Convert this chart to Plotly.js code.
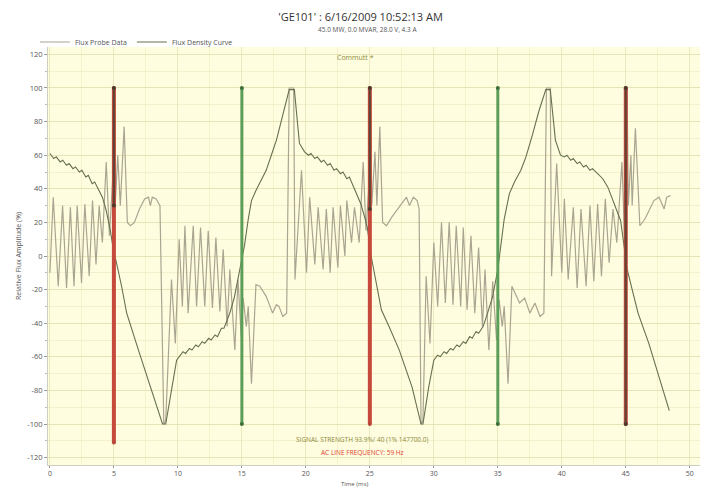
<!DOCTYPE html>
<html>
<head>
<meta charset="utf-8">
<script src="https://cdn.plot.ly/plotly-3.0.1.min.js"></script>
<style>html,body{margin:0;padding:0;background:#fff;}#chart{width:707px;height:488px;}</style>
</head>
<body>
<div id="chart"></div>
<script>
// ---- Data ----
const probeX = [0,0.26,0.65,0.99,1.3,1.6,1.88,2.13,2.47,2.73,3.07,3.33,3.6,3.85,4.1,4.4,4.65,4.9,5.05,5.1,5.3,5.5,5.8,6.05,6.3,6.6,7.0,7.4,7.7,7.85,8.0,8.3,8.6,8.9,9.05,9.5,9.8,10.1,10.35,10.55,10.8,11.2,11.46,11.77,12.1,12.37,12.7,12.97,13.28,13.54,13.85,14.06,14.45,14.7,14.95,15.1,15.35,15.5,15.75,16.1,16.4,16.9,17.4,17.7,17.9,18.2,18.5,18.7,19.05,19.15,19.66,20.05,20.3,20.7,20.96,21.35,21.6,21.9,22.13,22.5,22.7,23.05,23.2,23.57,23.8,24.17,24.48,24.7,24.95,25.05,25.15,25.4,25.55,25.78,26.0,26.3,26.7,27.34,27.86,28.1,28.4,28.7,28.85,29.0,29.15,29.4,29.7,30.0,30.3,30.6,30.9,31.2,31.5,31.75,32.1,32.3,32.6,32.9,33.2,33.5,33.8,34.0,34.3,34.6,34.9,35.1,35.35,35.5,35.8,36.1,36.7,37.1,37.5,37.9,38.3,38.6,38.8,39.1,39.2,39.6,40.0,40.2,40.5,40.9,41.2,41.5,41.9,42.2,42.5,42.8,43.1,43.4,43.7,44.0,44.3,44.7,44.9,45.0,45.1,45.2,45.4,45.5,45.75,46.1,46.5,47.2,47.6,48.0,48.2,48.5];
const probeY = [-10,35,-18,30,-19,29,-18,30,-16,31,-12,33,-5,30,8,56,12,45,100,30,60,30,77,20,18,20,28,34,35,30,35,34,30,-100,-98,-14,-52,10,-30,18,-34,18,-30,17,-30,15,-31,11,-33,4,-42,-8,-56,-14,-48,-25,-42,-30,-76,-17,-18,-24,-34,-29,-30,-36,-34,100,100,-14,51,-10,35,-5,29,-8,28,-10,29,-7,30,0,33,8,29,8,56,15,45,100,30,62,30,77,20,18,23,30,35,30,35,33,28,-100,-98,-12,-52,8,-30,20,-28,20,-29,18,-30,17,-32,12,-34,5,-42,-8,-56,-15,-50,-26,-42,-30,-76,-18,-28,-25,-34,-28,-36,-34,100,100,-12,55,-10,34,-14,29,-19,28,-18,30,-15,31,-12,34,-4,28,8,56,12,45,100,30,60,30,76,18,22,33,35,28,35,36];

const densX = [0,0.3,0.5,0.8,1.0,1.3,1.5,1.8,2.0,2.3,2.5,2.8,3.0,3.3,3.5,3.8,4.1,4.4,4.7,5.0,5.2,5.6,6.0,7.0,8.0,8.8,9.05,9.5,9.9,10.2,10.4,10.6,10.9,11.1,11.4,11.6,11.9,12.1,12.4,12.6,12.9,13.1,13.4,13.6,14.06,14.4,14.7,15.0,15.2,15.5,15.75,16.1,16.5,16.9,17.3,17.7,18.2,18.7,19.1,19.5,19.9,20.2,20.4,20.7,20.9,21.2,21.4,21.7,21.9,22.2,22.4,22.7,22.9,23.2,23.4,23.75,24.0,24.3,24.6,24.8,25.1,25.5,25.9,26.5,27.3,28.3,29.0,29.15,29.6,30.0,30.3,30.5,30.8,31.0,31.3,31.5,31.8,32.0,32.3,32.5,32.8,33.0,33.3,33.5,33.85,34.2,34.6,35.0,35.2,35.5,35.9,36.3,36.8,37.2,37.7,38.2,38.75,39.1,39.5,39.9,40.2,40.4,40.7,40.9,41.2,41.4,41.7,41.9,42.2,42.4,42.8,43.2,43.6,44.1,44.6,44.9,45.05,45.5,45.96,46.8,47.6,48.4];
const densY = [61,58,59,56,57,54,55,52,53,50,51,47,48,43,44,39,35,27,16,2,-4,-18,-34,-58,-82,-100,-100,-80,-62,-59,-57,-58,-55,-56,-53,-54,-51,-52,-49,-50,-47,-48,-43,-43,-34,-25,-14,-2,6,22,33,39,45,51,60,69,84,99,99,67,62,60,61,58,59,56,57,54,55,51,52,49,50,46,47,41,37,31,23,17,0,-16,-32,-42,-56,-78,-100,-100,-78,-62,-59,-60,-57,-58,-55,-56,-53,-54,-51,-52,-48,-49,-45,-46,-42,-34,-24,-8,5,22,37,44,51,59,72,86,99,99,69,60,59,60,57,58,55,56,53,54,51,52,49,46,41,31,21,4,-6,-20,-34,-52,-72,-92];

const redX = [5, 25, 45];
const redTop = [100, 100, 100];
const redBottom = [-111, -100, -100];
const darkOverlayBottom = [30, 28, -100];
const greenX = [15, 35];
const greenTop = [100, 100];
const greenBottom = [-100, -100];

const yTicks = [-120,-100,-80,-60,-40,-20,0,20,40,60,80,100,120];
const xTicks = [0,5,10,15,20,25,30,35,40,45,50];

const titleText = "'GE101' : 6/16/2009 10:52:13 AM";
const subtitleText = "45.0 MW, 0.0 MVAR, 28.0 V, 4.3 A";
const commentText = "Commutt *";
const signalText = "SIGNAL STRENGTH 93.9%/ 40 (1% 147700.0)";
const freqText = "AC LINE FREQUENCY: 59 Hz";

// ---- Traces ----
const traces = [];
traces.push({x: probeX, y: probeY, type: 'scatter', mode: 'lines', name: 'Flux Probe Data',
  line: {color: '#aaa591', width: 1.2}});
traces.push({x: densX, y: densY, type: 'scatter', mode: 'lines', name: 'Flux Density Curve',
  line: {color: '#66704f', width: 1.1}});
greenX.forEach((gx, i) => {
  traces.push({x: [gx, gx], y: [greenBottom[i], greenTop[i]], type: 'scatter', mode: 'lines+markers',
    showlegend: false, hoverinfo: 'skip',
    line: {color: '#5c9e58', width: 3}, marker: {color: '#3f6e3c', size: 4}});
});
redX.forEach((rx, i) => {
  traces.push({x: [rx, rx], y: [redBottom[i], redTop[i]], type: 'scatter', mode: 'lines+markers',
    showlegend: false, hoverinfo: 'skip',
    line: {color: '#c6493b', width: 4}, marker: {color: '#b7483a', size: 4}});
  traces.push({x: [rx, rx], y: [darkOverlayBottom[i], redTop[i]], type: 'scatter', mode: 'lines+markers',
    showlegend: false, hoverinfo: 'skip',
    line: {color: '#5e4535', width: 2}, marker: {color: '#4e3a2c', size: 4}});
});

const fontFam = 'Open Sans, DejaVu Sans, sans-serif';
const layout = {
  width: 707, height: 488,
  margin: {l: 48, r: 7, t: 47, b: 23, pad: 0},
  paper_bgcolor: '#ffffff',
  plot_bgcolor: '#fffde0',
  font: {family: fontFam, size: 7, color: '#555555'},
  title: {text: titleText, x: 0.51, xanchor: 'center', y: 0.965, yanchor: 'middle',
    font: {size: 11, color: '#333333', family: fontFam}},
  showlegend: true,
  legend: {orientation: 'h', x: -0.02, y: 1.012, xanchor: 'left', yanchor: 'middle',
    font: {size: 7, color: '#555555'}, bgcolor: 'rgba(0,0,0,0)', itemwidth: 30},
  xaxis: {range: [-0.15, 50.8], tickvals: xTicks, ticktext: xTicks.map(String),
    showgrid: true, gridcolor: '#ebe8bc', gridwidth: 1,
    minor: {dtick: 2.5, showgrid: true, gridcolor: '#f4f1cc', ticks: ''},
    zeroline: false, showline: true, linecolor: '#cfcfbf', ticks: 'outside', ticklen: 2,
    tickcolor: '#999999', tickfont: {size: 7, color: '#555555'}, automargin: false},
  yaxis: {range: [-124.4, 124.4], tickvals: yTicks, ticktext: yTicks.map(String),
    showgrid: true, gridcolor: '#e6e3b4', gridwidth: 1,
    minor: {dtick: 10, showgrid: true, gridcolor: '#f3f0cb', ticks: 'outside', ticklen: 2, tickcolor: '#bbbbbb'},
    zeroline: false, showline: true, linecolor: '#cfcfbf', ticks: 'outside', ticklen: 3,
    tickcolor: '#999999', tickfont: {size: 7.5, color: '#555555'}, automargin: false},
  annotations: [
    {text: subtitleText, xref: 'paper', yref: 'paper', x: 0.49, y: 1.041, showarrow: false,
      font: {size: 6.5, color: '#555555'}, xanchor: 'center', yanchor: 'middle'},
    {text: commentText, xref: 'paper', yref: 'paper', x: 0.472, y: 0.976, showarrow: false,
      font: {size: 7, color: '#8c8a3c'}, xanchor: 'center', yanchor: 'middle'},
    {text: signalText, xref: 'paper', yref: 'paper', x: 0.482, y: 0.06, showarrow: false,
      font: {size: 6.5, color: '#8c8a3c'}, xanchor: 'center', yanchor: 'middle'},
    {text: freqText, xref: 'paper', yref: 'paper', x: 0.482, y: 0.031, showarrow: false,
      font: {size: 6.5, color: '#e0412f'}, xanchor: 'center', yanchor: 'middle'},
    {text: 'Time (ms)', xref: 'paper', yref: 'paper', x: 0.47, y: -0.046, showarrow: false,
      font: {size: 6}, xanchor: 'center', yanchor: 'middle'},
    {text: 'Relative Flux Amplitude (%)', xref: 'paper', yref: 'paper', x: -0.046, y: 0.5,
      textangle: -90, showarrow: false, font: {size: 7, color: '#555555'},
      xanchor: 'center', yanchor: 'middle'}
  ]
};

Plotly.newPlot('chart', traces, layout, {displayModeBar: false, staticPlot: true});
</script>
</body>
</html>
